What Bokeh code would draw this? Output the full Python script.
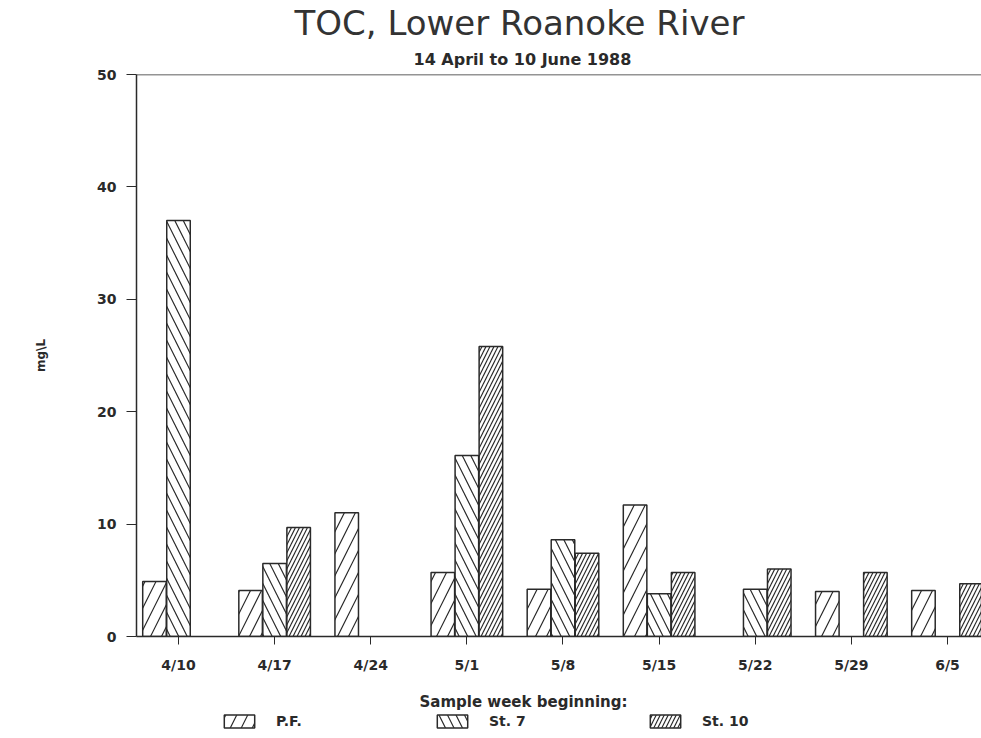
from bokeh.plotting import figure
from bokeh.layouts import column
from bokeh.models import (Range1d, FixedTicker, Title, Legend, LegendItem, Span,
                          ColumnDataSource)
from bokeh.transform import dodge
from bokeh.embed import file_html
from bokeh.resources import INLINE

nan = float("nan")

# ---- data ----
weeks = ["4/10", "4/17", "4/24", "5/1", "5/8", "5/15", "5/22", "5/29", "6/5"]
pf    = [4.9, 4.1, 11.0, 5.7, 4.2, 11.7, nan, 4.0, 4.1]
st7   = [37.0, 6.5, nan, 16.1, 8.6, 3.8, 4.2, nan, nan]
st10  = [nan, 9.7, nan, 25.8, 7.4, 5.7, 6.0, 5.7, 4.7]
series_names = ["P.F.", "St. 7", "St. 10"]
y_ticks = [0, 10, 20, 30, 40, 50]

src = ColumnDataSource(dict(x=list(range(len(weeks))), pf=pf, st7=st7, st10=st10))

INK = "#2a2a2a"
FONT = "DejaVu Sans"
cols = ["pf", "st7", "st10"]
offs = [-0.25, 0.0, 0.25]
styles = [dict(hatch_pattern="/", hatch_scale=22),
          dict(hatch_pattern="\\", hatch_scale=17),
          dict(hatch_pattern="/", hatch_scale=8)]
base = dict(fill_color="white", line_color=INK, line_width=1.5,
            hatch_color=INK, hatch_weight=1.2)
bw = 0.245

p = figure(width=981, height=690, output_backend="svg", toolbar_location=None,
           x_range=Range1d(-0.437, 8.354), y_range=Range1d(0, 50),
           min_border_left=136, min_border_right=0, min_border_top=73,
           min_border_bottom=54)
p.outline_line_color = None
p.background_fill_color = "white"
p.border_fill_color = "white"
p.xgrid.visible = False
p.ygrid.visible = False

for c, o, st in zip(cols, offs, styles):
    p.vbar(x=dodge("x", o, range=p.x_range), top=c, width=bw, bottom=0,
           source=src, **base, **st)

# top border of the frame
p.add_layout(Span(location=50, dimension="width", line_color=INK, line_width=1.5))

# axes
xa = p.xaxis[0]
xa.ticker = FixedTicker(ticks=list(range(len(weeks))))
xa.major_label_overrides = {i: w for i, w in enumerate(weeks)}
xa.major_tick_out = 8
xa.major_tick_in = 0
xa.minor_tick_line_color = None
xa.major_label_standoff = 12
xa.major_label_text_font = FONT
xa.major_label_text_font_style = "bold"
xa.major_label_text_font_size = "14px"
xa.major_label_text_color = INK
xa.axis_line_color = INK
xa.axis_line_width = 1.5
xa.major_tick_line_color = INK

ya = p.yaxis[0]
ya.ticker = FixedTicker(ticks=y_ticks)
ya.major_tick_out = 10
ya.major_tick_in = 0
ya.minor_tick_line_color = None
ya.major_label_standoff = 10
ya.major_label_text_font = FONT
ya.major_label_text_font_style = "bold"
ya.major_label_text_font_size = "14px"
ya.major_label_text_color = INK
ya.axis_line_color = INK
ya.axis_line_width = 1.5
ya.major_tick_line_color = INK
ya.axis_label = "mg\\L"
ya.axis_label_standoff = 46
ya.axis_label_text_font = FONT
ya.axis_label_text_font_style = "bold"
ya.axis_label_text_font_size = "12px"
ya.axis_label_text_color = INK

# titles (first added = closest to frame)
p.add_layout(Title(text="14 April to 10 June 1988", align="left", offset=277,
                   text_font=FONT, text_font_style="bold", text_font_size="16px",
                   text_color=INK, standoff=11), "above")
p.add_layout(Title(text="TOC, Lower Roanoke River", align="left", offset=158,
                   text_font=FONT, text_font_style="normal", text_font_size="34px",
                   text_color="#333333", standoff=0), "above")

# ---- bottom strip: x-axis title and legend ----
p2 = figure(width=981, height=48, output_backend="svg", toolbar_location=None,
            x_range=Range1d(0, 1), y_range=Range1d(0, 1),
            x_axis_type=None, y_axis_type=None,
            min_border_left=136, min_border_right=0, min_border_top=0,
            min_border_bottom=0)
p2.outline_line_color = None
p2.xgrid.visible = False
p2.ygrid.visible = False
p2.background_fill_color = "white"
p2.border_fill_color = "white"
p2.add_layout(Title(text="Sample week beginning:", align="left", offset=283,
                    text_font=FONT, text_font_style="bold", text_font_size="15px",
                    text_color=INK, standoff=0), "above")

# legend keys: same series styles; these renderers are hidden (keys only)
items = []
for name, c, st in zip(series_names, cols, styles):
    r = p2.vbar(x="x", top=c, width=bw, bottom=0, source=src, visible=False,
                **base, **st)
    items.append(LegendItem(label=name, renderers=[r]))

legend = Legend(items=items, orientation="horizontal", location=(84, 9),
                glyph_width=38, glyph_height=16, label_standoff=18,
                label_width=65, spacing=92, padding=2, margin=0,
                border_line_color=None, background_fill_alpha=0,
                label_text_font=FONT, label_text_font_style="bold",
                label_text_font_size="14px", label_text_color=INK)
p2.add_layout(legend, "center")

layout = column(p, p2, spacing=0)
open("out.html", "w").write(file_html(layout, INLINE))
